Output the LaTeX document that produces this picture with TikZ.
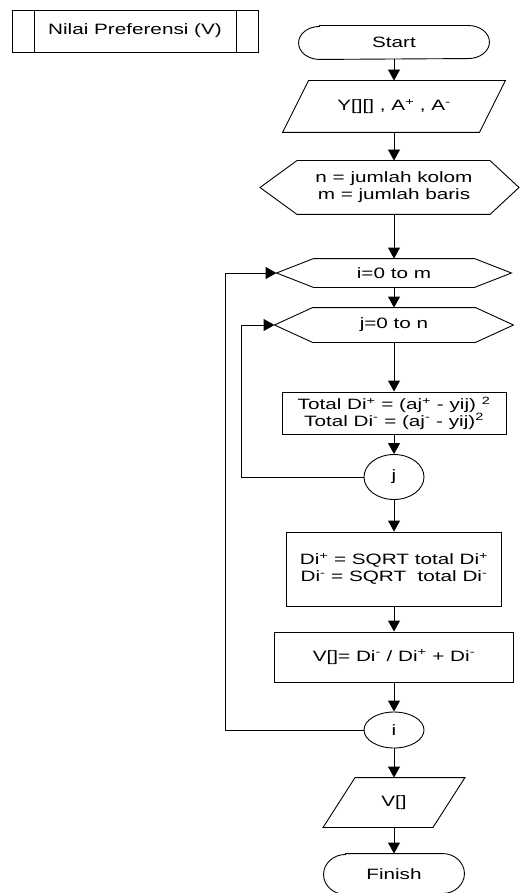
\documentclass[tikz,border=0pt]{standalone}
\usepackage{fontspec}
\setmainfont{Liberation Sans}[FakeStretch=1.38]
\usetikzlibrary{arrows.meta,shapes.geometric,calc}
\newcommand\drawhexshape[2]{\draw ($(#1.north west)+(#2,0)$) -- ($(#1.north east)+(-#2,0)$) -- (#1.east) -- ($(#1.south east)+(-#2,0)$) -- ($(#1.south west)+(#2,0)$) -- (#1.west) -- cycle;}
\newcommand\drawtermshape[3]{\draw ($(#1.north west)+(#2,0)$) -- ($(#1.north east)+(-#2,0)$) arc[start angle=90,end angle=-90,x radius=#2pt,y radius=#3pt] -- ($(#1.south west)+(#2,0)$) arc[start angle=270,end angle=90,x radius=#2pt,y radius=#3pt] -- cycle;}
\newcommand\drawparshape[2]{\draw ($(#1.north west)+(#2,0)$) -- (#1.north east) -- ($(#1.south east)+(-#2,0)$) -- (#1.south west) -- cycle;}
\begin{document}
\begin{tikzpicture}[x=1pt,y=-1pt,line width=0.9pt,font=\fontsize{15}{17}\selectfont,
  lbl/.style={inner sep=0pt,align=center},
  proc/.style={draw,rectangle,inner sep=0pt,align=center},
  circ/.style={draw,ellipse,inner sep=0pt,minimum width=60pt},
  arr/.style={-{Triangle[length=11pt,width=12pt]}}]
\useasboundingbox (0,0) rectangle (520,893);

% title box
\node[proc,minimum width=246pt,minimum height=42pt] (title) at (135,31) {Nilai Preferensi (V)};
\draw ([xshift=23pt]title.north west) -- ([xshift=23pt]title.south west);
\draw ([xshift=-22pt]title.north east) -- ([xshift=-22pt]title.south east);

% flow
\node[lbl,minimum width=190pt,minimum height=33pt] (start) at (394,42.5) {Start};
\drawtermshape{start}{21}{16.5}

\node[lbl,minimum width=222pt,minimum height=51pt] (inpar) at (394,106.5) {Y[][] , A\textsuperscript{+} , A\textsuperscript{-}};
\drawparshape{inpar}{26}

\node[lbl,minimum height=53pt] (hexa) at (394,187.5) {n = jumlah kolom\\m = jumlah baris};
\draw ($(hexa.north)+(-97,0)$) -- ($(hexa.north)+(96,0)$) -- ($(hexa.center)+(125,0)$) -- ($(hexa.south)+(96,0)$) -- ($(hexa.south)+(-97,0)$) -- ($(hexa.center)+(-134,0)$) -- cycle;

\node[lbl,minimum width=234pt,minimum height=28pt] (ihex) at (394,273) {i=0 to m};
\drawhexshape{ihex}{37}

\node[lbl,minimum width=238pt,minimum height=34pt] (jhex) at (394,325) {j=0 to n};
\drawhexshape{jhex}{38}

\node[proc,minimum width=224pt,minimum height=42pt] (tot) at (394,413) {Total Di\textsuperscript{+} = (aj\textsuperscript{+} - yij) \textsuperscript{2}\\Total Di\textsuperscript{-} = (aj\textsuperscript{-} - yij)\textsuperscript{2}};

\node[circ,minimum height=45pt] (jc) at (394,477) {j};

\node[proc,minimum width=215pt,minimum height=74pt] (di) at (394,569) {Di\textsuperscript{+} = SQRT total Di\textsuperscript{+}\\Di\textsuperscript{-} = SQRT \ total Di\textsuperscript{-}};

\node[proc,minimum width=239pt,minimum height=50pt] (vb) at (394,657) {V[]= Di\textsuperscript{-} / Di\textsuperscript{+} + Di\textsuperscript{-}};

\node[circ,minimum height=36pt] (ic) at (394,730) {i};

\node[lbl,minimum width=141pt,minimum height=49pt] (vpar) at (394,802.5) {V[]};
\drawparshape{vpar}{32}

\node[lbl,minimum width=140pt,minimum height=40pt] (fin) at (394,874) {Finish};
\drawtermshape{fin}{22}{20}

% connectors
\draw[arr] (start.south) -- (inpar.north);
\draw[arr] (inpar.south) -- (hexa.north);
\draw[arr] (hexa.south) -- (ihex.north);
\draw[arr] (ihex.south) -- (jhex.north);
\draw[arr] (jhex.south) -- (tot.north);
\draw[arr] (tot.south) -- (jc.north);
\draw[arr] (jc.south) -- (di.north);
\draw[arr] (di.south) -- (vb.north);
\draw[arr] (vb.south) -- (ic.north);
\draw[arr] (ic.south) -- (vpar.north);
\draw[arr] (vpar.south) -- (fin.north);

\coordinate (oloop) at (225,0);
\coordinate (iloop) at (241,0);
\draw[arr] (ic.west) -- (ic.west -| oloop) -- (ihex.west -| oloop) -- (ihex.west);
\draw[arr] (jc.west) -- (jc.west -| iloop) -- (jhex.west -| iloop) -- (jhex.west);
\end{tikzpicture}
\end{document}
